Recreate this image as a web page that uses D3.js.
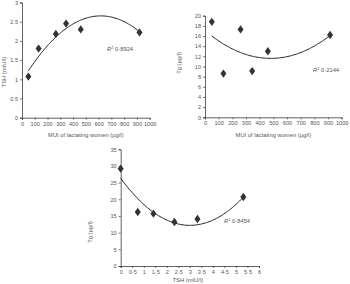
<!DOCTYPE html>
<html>
<head>
<meta charset="utf-8">
<script src="https://cdn.jsdelivr.net/npm/d3@7"></script>
<style>
  body { margin: 0; background: #fff; }
  svg { display: block; font-family: "Liberation Sans", Arial, sans-serif; }
</style>
</head>
<body>
<div id="chart"></div>
<script>
// panel A: MUI vs TSH
const muiA = [50, 130, 265, 345, 460, 920];
const tshA = [1.07, 1.8, 2.18, 2.45, 2.3, 2.22];
const fitA = [0.956, 0.0055, -4.461e-6];   // c, b, a
const r2A = "0·8924";
const yTicksA = [0, 0.5, 1, 1.5, 2, 2.5, 3];

// panel B: MUI vs Tg
const muiB = [50, 135, 260, 345, 460, 915];
const tgB = [18.8, 8.6, 17.3, 9.1, 13.0, 16.2];
const fitB = [17.08, -0.022848, 2.38e-5];
const r2B = "0·2144";
const yTicksB = [0, 2, 4, 6, 8, 10, 12, 14, 16, 18, 20];

const xTicksMUI = [0, 100, 200, 300, 400, 500, 600, 700, 800, 900, 1000];

// panel C: TSH vs Tg
const tshC = [0, 0.74, 1.42, 2.33, 3.33, 5.32];
const tgC = [29.2, 16.2, 15.7, 13.2, 14.1, 20.7];
const fitC = [26.3, -9.402, 1.567];
const r2C = "0·8454";
const xTicksC = [0, 0.5, 1, 1.5, 2, 2.5, 3, 3.5, 4, 4.5, 5, 5.5, 6];
const yTicksC = [0, 5, 10, 15, 20, 25, 30, 35];

const svg = d3.select("#chart").append("svg")
    .attr("width", 350)
    .attr("height", 284);

const ink = "#3a3a3a";
const textCol = "#555";

const drawPanel = (cfg) => {
    const x = d3.scaleLinear().domain(cfg.xDomain).range(cfg.xRange);
    const y = d3.scaleLinear().domain(cfg.yDomain).range(cfg.yRange);
    const g = svg.append("g");

    // axes
    const xAxis = d3.axisBottom(x).tickValues(cfg.xTicks).tickSize(2).tickPadding(2)
        .tickFormat(cfg.xFmt);
    const yAxis = d3.axisLeft(y).tickValues(cfg.yTicks).tickSize(2).tickPadding(2)
        .tickFormat(cfg.yFmt);

    g.append("g")
        .attr("transform", `translate(0,${cfg.yRange[0]})`)
        .call(xAxis);
    g.append("g")
        .attr("transform", `translate(${cfg.xRange[0]},0)`)
        .call(yAxis);

    g.selectAll(".domain").attr("stroke", ink).attr("stroke-width", 0.8);
    g.selectAll(".tick line").attr("stroke", ink).attr("stroke-width", 0.7);
    g.selectAll(".tick text").attr("fill", textCol).style("font-size", "5.6px");

    // fitted curve
    const [c, b, a] = cfg.fit;
    const xs = d3.range(0, 101).map(i => cfg.fitFrom + (cfg.fitTo - cfg.fitFrom) * i / 100);
    const line = d3.line()
        .x(d => x(d))
        .y(d => y(c + b * d + a * d * d));
    g.append("path")
        .datum(xs)
        .attr("d", line)
        .attr("fill", "none")
        .attr("stroke", "#222")
        .attr("stroke-width", 1);

    // points
    g.selectAll(".pt")
        .data(cfg.xs.map((v, i) => [v, cfg.ys[i]]))
        .enter()
        .append("path")
        .attr("d", d3.symbol(d3.symbolDiamond, 20))
        .attr("transform", d => `translate(${x(d[0])},${y(d[1])}) scale(1.25,1)`)
        .attr("fill", "#333");

    // R2 label
    const t = g.append("text")
        .attr("x", cfg.r2Pos[0])
        .attr("y", cfg.r2Pos[1])
        .attr("fill", textCol)
        .style("font-size", "5.8px");
    t.append("tspan").style("font-style", "italic").text("R");
    t.append("tspan").attr("dy", -2).style("font-size", "4px").text("2");
    t.append("tspan").attr("dy", 2).text(" " + cfg.r2);

    // axis titles
    g.append("text")
        .attr("x", (cfg.xRange[0] + cfg.xRange[1]) / 2 + cfg.xTitleShift)
        .attr("y", cfg.yRange[0] + cfg.xTitleGap)
        .attr("text-anchor", "middle")
        .attr("fill", textCol)
        .style("font-size", "5.8px")
        .text(cfg.xTitle);
    g.append("text")
        .attr("transform", `translate(${cfg.yTitlePos[0]},${cfg.yTitlePos[1]}) rotate(-90)`)
        .attr("text-anchor", "middle")
        .attr("fill", textCol)
        .style("font-size", "5.8px")
        .text(cfg.yTitle);
};

const dot = d => String(d).replace(".", "·");

drawPanel({
    xDomain: [0, 1000], xRange: [22, 149.7],
    yDomain: [0, 3], yRange: [117.7, 2.5],
    xTicks: xTicksMUI, yTicks: yTicksA,
    xFmt: d => d, yFmt: d => d,
    xs: muiA, ys: tshA, fit: fitA, fitFrom: 50, fitTo: 920,
    r2: r2A, r2Pos: [107, 51],
    xTitle: "MUI of lactating women (µg/l)", xTitleShift: 0, xTitleGap: 19.5,
    yTitle: "TSH (mIU/l)", yTitlePos: [6, 72]
});

drawPanel({
    xDomain: [0, 1000], xRange: [205, 341.7],
    yDomain: [0, 20], yRange: [117.3, 15.7],
    xTicks: xTicksMUI, yTicks: yTicksB,
    xFmt: d => d, yFmt: d => d,
    xs: muiB, ys: tgB, fit: fitB, fitFrom: 50, fitTo: 920,
    r2: r2B, r2Pos: [313, 72],
    xTitle: "MUI of lactating women (µg/l)", xTitleShift: 0, xTitleGap: 19.5,
    yTitle: "Tg (µg/l)", yTitlePos: [181, 63]
});

drawPanel({
    xDomain: [0, 6], xRange: [120.7, 259],
    yDomain: [0, 35], yRange: [266, 149.3],
    xTicks: xTicksC, yTicks: yTicksC,
    xFmt: dot, yFmt: d => d,
    xs: tshC, ys: tgC, fit: fitC, fitFrom: 0, fitTo: 5.32,
    r2: r2C, r2Pos: [224, 223],
    xTitle: "TSH (mIU/l)", xTitleShift: -2, xTitleGap: 16,
    yTitle: "Tg (µg/l)", yTitlePos: [92, 232]
});
</script>
</body>
</html>
